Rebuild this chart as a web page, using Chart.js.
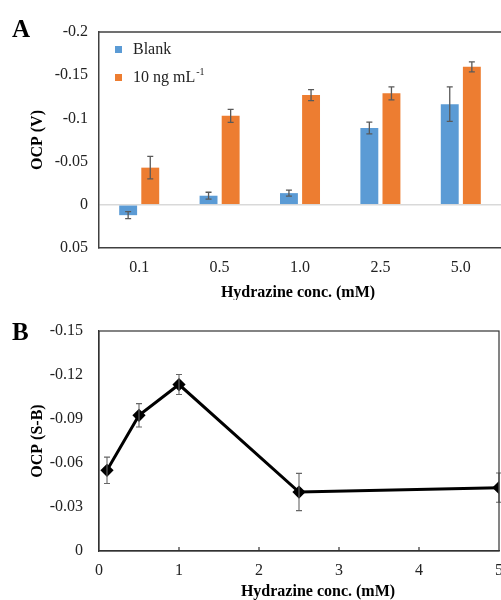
<!DOCTYPE html>
<html>
<head>
<meta charset="utf-8">
<script src="https://cdn.jsdelivr.net/npm/chart.js@4.4.1/dist/chart.umd.min.js"></script>
<style>
  body { margin: 0; background: #fff; }
  canvas { display: block; }
</style>
</head>
<body>
<canvas id="chartA" width="501" height="300"></canvas>
<canvas id="chartB" width="501" height="300"></canvas>
<script>
// panel A - OCP of blank vs 10 ng/mL
const concLabels = ['0.1', '0.5', '1.0', '2.5', '5.0'];
const blankOcp = [0.012, -0.0105, -0.0135, -0.0888, -0.1165];
const blankErr = [0.004, 0.004, 0.0035, 0.0068, 0.02];
const sampleOcp = [-0.043, -0.103, -0.127, -0.129, -0.1597];
const sampleErr = [0.013, 0.0075, 0.0064, 0.0075, 0.0058];
const yTicksA = [-0.2, -0.15, -0.1, -0.05, 0, 0.05];

// panel B - difference (S-B)
const concB = [0.1, 0.5, 1, 2.5, 5];
const diffOcp = [-0.055, -0.0925, -0.1135, -0.0402, -0.0432];
const diffErr = [0.009, 0.008, 0.0068, 0.0127, 0.01];
const yTicksB = [-0.15, -0.12, -0.09, -0.06, -0.03, 0];
const xTicksB = [0, 1, 2, 3, 4, 5];

const serif = "'Liberation Serif', 'Times New Roman', serif";

// error bars drawn through the y scale
const errorBars = {
  id: 'errorBars',
  afterDatasetsDraw(chart, args, opts) {
    const ctx = chart.ctx;
    const yScale = chart.scales.y;
    ctx.save();
    ctx.strokeStyle = opts.color;
    ctx.lineWidth = opts.width;
    chart.data.datasets.forEach((ds, di) => {
      if (!ds.errors) return;
      chart.getDatasetMeta(di).data.forEach((el, i) => {
        const d = ds.data[i];
        const v = typeof d === 'object' ? d.y : d;
        const y1 = yScale.getPixelForValue(v - ds.errors[i]);
        const y2 = yScale.getPixelForValue(v + ds.errors[i]);
        const x = el.x;
        ctx.beginPath();
        ctx.moveTo(x, y1); ctx.lineTo(x, y2);
        ctx.moveTo(x - opts.cap, y1); ctx.lineTo(x + opts.cap, y1);
        ctx.moveTo(x - opts.cap, y2); ctx.lineTo(x + opts.cap, y2);
        ctx.stroke();
      });
    });
    ctx.restore();
  }
};

// box round the plot area (panel A: top line only, right side is cut off)
const frame = {
  id: 'frame',
  afterDraw(chart, args, opts) {
    const {ctx, chartArea: a} = chart;
    ctx.save();
    ctx.strokeStyle = opts.color;
    ctx.lineWidth = opts.width;
    if (opts.topOnly) {
      ctx.beginPath();
      ctx.moveTo(a.left, a.top); ctx.lineTo(chart.width, a.top);
      ctx.stroke();
    } else {
      ctx.strokeRect(a.left, a.top, a.right - a.left, a.bottom - a.top);
    }
    // inward tick marks on x
    if (opts.innerTicks) {
      const xs = chart.scales.x;
      ctx.beginPath();
      opts.innerTicks.forEach(v => {
        const x = xs.getPixelForValue(v);
        ctx.moveTo(x, a.bottom); ctx.lineTo(x, a.bottom - 4);
      });
      ctx.stroke();
    }
    ctx.restore();
  }
};

// panel letter + x axis title
const panelText = {
  id: 'panelText',
  afterDraw(chart, args, opts) {
    const ctx = chart.ctx;
    ctx.save();
    ctx.fillStyle = '#000';
    ctx.textBaseline = 'alphabetic';
    ctx.font = 'bold 25px ' + serif;
    ctx.fillText(opts.letter, 12, opts.letterY);
    ctx.font = 'bold 16px ' + serif;
    ctx.textAlign = 'center';
    ctx.textBaseline = 'middle';
    ctx.fillText(opts.title, opts.titleX, opts.titleY);
    ctx.restore();
  }
};

// legend inside panel A, with superscript
const insideLegend = {
  id: 'insideLegend',
  afterDraw(chart) {
    const ctx = chart.ctx;
    const rows = [
      {color: chart.data.datasets[0].backgroundColor, text: chart.data.datasets[0].label, sup: '', y: 49},
      {color: chart.data.datasets[1].backgroundColor, text: chart.data.datasets[1].label, sup: '-1', y: 77}
    ];
    ctx.save();
    ctx.textBaseline = 'middle';
    rows.forEach(r => {
      ctx.fillStyle = r.color;
      ctx.fillRect(115, r.y - 3, 7, 7);
      ctx.fillStyle = '#222';
      ctx.font = '16px ' + serif;
      ctx.fillText(r.text, 133, r.y + 1);
      if (r.sup) {
        const w = ctx.measureText(r.text).width;
        ctx.font = '10px ' + serif;
        ctx.fillText(r.sup, 133 + w + 1, r.y - 5);
      }
    });
    ctx.restore();
  }
};

// keep edge labels from shrinking the plot
const noEdgePad = s => { s.paddingLeft = 0; s.paddingRight = 0; };

new Chart(document.getElementById('chartA'), {
  type: 'bar',
  data: {
    labels: concLabels,
    datasets: [
      {
        label: 'Blank',
        data: blankOcp,
        errors: blankErr,
        backgroundColor: '#5B9BD5',
        barPercentage: 0.81,
        categoryPercentage: 0.55
      },
      {
        label: '10 ng mL',
        data: sampleOcp,
        errors: sampleErr,
        backgroundColor: '#ED7D31',
        barPercentage: 0.81,
        categoryPercentage: 0.55
      }
    ]
  },
  options: {
    responsive: false,
    animation: false,
    layout: { autoPadding: false, padding: { top: 32, right: 0, left: 0, bottom: 0 } },
    scales: {
      x: {
        afterFit: s => { s.height = 52; noEdgePad(s); },
        border: { display: true, color: '#404040', width: 1.5 },
        grid: { display: false, drawTicks: false },
        ticks: { color: '#222', padding: 10, font: { family: serif, size: 16 } }
      },
      y: {
        min: -0.2,
        max: 0.05,
        reverse: true,
        afterFit: s => { s.width = 99; },
        afterBuildTicks: s => { s.ticks = yTicksA.map(v => ({ value: v })); },
        border: { display: true, color: '#404040', width: 1.5 },
        grid: {
          drawTicks: false,
          lineWidth: 1.5,
          color: c => (c.tick && c.tick.value === 0) ? '#d9d9d9' : 'rgba(0,0,0,0)'
        },
        ticks: {
          color: '#222',
          padding: 11,
          font: { family: serif, size: 16 },
          callback: v => String(v)
        },
        title: {
          display: true,
          text: 'OCP (V)',
          color: '#000',
          padding: { top: 28, bottom: 0 },
          font: { family: serif, size: 16, weight: 'bold' }
        }
      }
    },
    plugins: {
      legend: { display: false },
      tooltip: { enabled: false },
      errorBars: { color: '#595959', width: 1.3, cap: 3 },
      frame: { color: '#404040', width: 1.5, topOnly: true },
      panelText: { letter: 'A', letterY: 37, title: 'Hydrazine conc. (mM)', titleX: 298, titleY: 293 }
    }
  },
  plugins: [errorBars, frame, panelText, insideLegend]
});

new Chart(document.getElementById('chartB'), {
  type: 'line',
  data: {
    datasets: [
      {
        label: 'OCP (S-B)',
        data: concB.map((c, i) => ({ x: c, y: diffOcp[i] })),
        errors: diffErr,
        borderColor: '#000',
        backgroundColor: '#000',
        borderWidth: 3,
        pointStyle: 'rectRot',
        pointRadius: 4.5,
        tension: 0
      }
    ]
  },
  options: {
    responsive: false,
    animation: false,
    layout: { autoPadding: false, padding: { top: 31, right: 2, left: 0, bottom: 0 } },
    scales: {
      x: {
        type: 'linear',
        min: 0,
        max: 5,
        afterFit: s => { s.height = 49; noEdgePad(s); },
        afterBuildTicks: s => { s.ticks = xTicksB.map(v => ({ value: v })); },
        border: { display: true, color: '#333', width: 1.2 },
        grid: { display: false, drawTicks: false },
        ticks: { color: '#222', padding: 10, font: { family: serif, size: 16 }, callback: v => String(v) }
      },
      y: {
        min: -0.15,
        max: 0,
        reverse: true,
        afterFit: s => { s.width = 99; },
        afterBuildTicks: s => { s.ticks = yTicksB.map(v => ({ value: v })); },
        border: { display: true, color: '#333', width: 1.2 },
        grid: { display: false, drawTicks: false },
        ticks: {
          color: '#222',
          padding: 16,
          font: { family: serif, size: 16 },
          callback: v => String(v)
        },
        title: {
          display: true,
          text: 'OCP (S-B)',
          color: '#000',
          padding: { top: 28, bottom: 0 },
          font: { family: serif, size: 16, weight: 'bold' }
        }
      }
    },
    plugins: {
      legend: { display: false },
      tooltip: { enabled: false },
      errorBars: { color: '#666', width: 1.1, cap: 3 },
      frame: { color: '#333', width: 1.2, innerTicks: [1, 2, 3, 4] },
      panelText: { letter: 'B', letterY: 40, title: 'Hydrazine conc. (mM)', titleX: 318, titleY: 292 }
    }
  },
  plugins: [errorBars, frame, panelText]
});
</script>
</body>
</html>
